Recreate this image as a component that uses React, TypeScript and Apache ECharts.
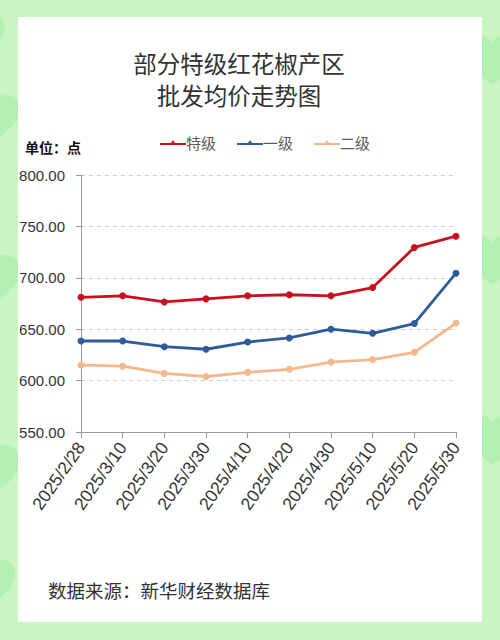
import React, { useEffect, useRef } from "react";
import * as echarts from "echarts";

const categories = [
  "2025/2/28", "2025/3/10", "2025/3/20", "2025/3/30", "2025/4/10",
  "2025/4/20", "2025/4/30", "2025/5/10", "2025/5/20", "2025/5/30",
];
const specialGrade = [681, 682.5, 676.5, 679.5, 682.5, 683.5, 682.5, 690.5, 729.5, 740.5];
const firstGrade = [638.5, 638.5, 633, 630.5, 637.5, 641.5, 650, 646, 655.5, 704.5];
const secondGrade = [615, 614, 607, 604, 608, 611, 618, 620.5, 627.5, 656];
const seriesNames = ["特级", "一级", "二级"];
const seriesColors = ["#c8101e", "#2f5b9a", "#f5b88c"];
const titleLines = ["部分特级红花椒产区", "批发均价走势图"];
const unitText = "单位：点";
const sourceText = "数据来源：新华财经数据库";

const FONT = "'Noto Sans CJK SC', 'Noto Sans', sans-serif";
const NUM_FONT = "'Liberation Sans', 'Noto Sans CJK SC', sans-serif";

const heartPath =
  "M50,90 C20,70 0,50 0,28 C0,12 12,0 27,0 C38,0 46,7 50,15 C54,7 62,0 73,0 C88,0 100,12 100,28 C100,50 80,70 50,90 Z";
echarts.graphic.registerShape("heart", echarts.graphic.extendPath(heartPath, {}) as any);

function heart(x: number, y: number, s: number) {
  return {
    type: "heart",
    x, y, scaleX: s, scaleY: s,
    z: -20,
    style: { fill: "#a4eba6", opacity: 0.55 },
  };
}

export default function App() {
  const ref = useRef<HTMLDivElement>(null);
  useEffect(() => {
    if (!ref.current) return;
    const chart = echarts.init(ref.current, null, { renderer: "svg" });
    const dataSets = [specialGrade, firstGrade, secondGrade];
    chart.setOption({
      animation: false,
      backgroundColor: "#c8f5c1",
      textStyle: { fontFamily: FONT },
      graphic: [
        heart(-30, 95, 0.5),
        heart(-35, 255, 0.55),
        heart(-35, 445, 0.55),
        heart(-40, 15, 0.45),
        heart(465, 35, 0.55),
        heart(465, 235, 0.55),
        heart(465, 415, 0.55),
        heart(-35, 560, 0.5),
        {
          type: "rect",
          shape: { x: 18, y: 17, width: 464, height: 605 },
          style: { fill: "#ffffff" },
          z: -10,
        },
        {
          type: "text",
          x: 239, y: 63,
          z: 10,
          style: {
            text: titleLines[0], fill: "#333333", font: `23.5px ${FONT}`,
            align: "center", verticalAlign: "middle",
          },
        },
        {
          type: "text",
          x: 239, y: 95,
          z: 10,
          style: {
            text: titleLines[1], fill: "#333333", font: `23.5px ${FONT}`,
            align: "center", verticalAlign: "middle",
          },
        },
        {
          type: "text",
          x: 25, y: 147,
          z: 10,
          style: {
            text: unitText, fill: "#111111", font: `bold 14px ${FONT}`,
            align: "left", verticalAlign: "middle",
          },
        },
        {
          type: "text",
          x: 48, y: 590,
          z: 10,
          style: {
            text: sourceText, fill: "#333333", font: `18.5px ${FONT}`,
            align: "left", verticalAlign: "middle",
          },
        },
      ],
      legend: {
        top: 130,
        left: 155,
        itemGap: 21,
        itemWidth: 26,
        itemHeight: 10,
        textStyle: { color: "#595959", fontSize: 15, fontFamily: FONT, padding: [0, 0, 0, -5] },
        data: seriesNames.map((n, i) => ({
          name: n,
          icon: "path://M0,8 L11,8 L13,5 L15,8 L26,8 L26,10 L0,10 Z",
          itemStyle: { color: seriesColors[i] },
        })),
      },
      grid: { left: 81, right: 44, top: 175, bottom: 208, containLabel: false },
      xAxis: {
        type: "category",
        data: categories,
        boundaryGap: false,
        axisLine: { lineStyle: { color: "#9a9a9a", width: 1 } },
        axisTick: { alignWithLabel: true, length: 6, lineStyle: { color: "#9a9a9a" } },
        axisLabel: {
          rotate: 55,
          color: "#333333",
          fontSize: 17.5,
          fontFamily: NUM_FONT,
          margin: 12,
          interval: 0,
        },
        splitLine: { show: false },
      },
      yAxis: {
        type: "value",
        min: 550,
        max: 800,
        interval: 50,
        axisLine: { show: true, lineStyle: { color: "#9a9a9a" } },
        axisTick: { show: true, length: 5, lineStyle: { color: "#9a9a9a" } },
        axisLabel: {
          formatter: (v: number) => v.toFixed(2),
          color: "#333333",
          fontSize: 15,
          fontFamily: NUM_FONT,
          margin: 16,
        },
        splitLine: { lineStyle: { color: "#cccccc", type: [4, 4], width: 1 } },
      },
      series: seriesNames.map((n, i) => ({
        name: n,
        type: "line",
        data: dataSets[i],
        symbol: "circle",
        symbolSize: 7,
        z: 3 - i + 2,
        lineStyle: { color: seriesColors[i], width: 2.8 },
        itemStyle: { color: seriesColors[i] },
      })),
    });
    return () => chart.dispose();
  }, []);
  return (
    <div
      ref={ref}
      style={{ position: "fixed", left: 0, top: 0, width: 500, height: 640 }}
    />
  );
}
